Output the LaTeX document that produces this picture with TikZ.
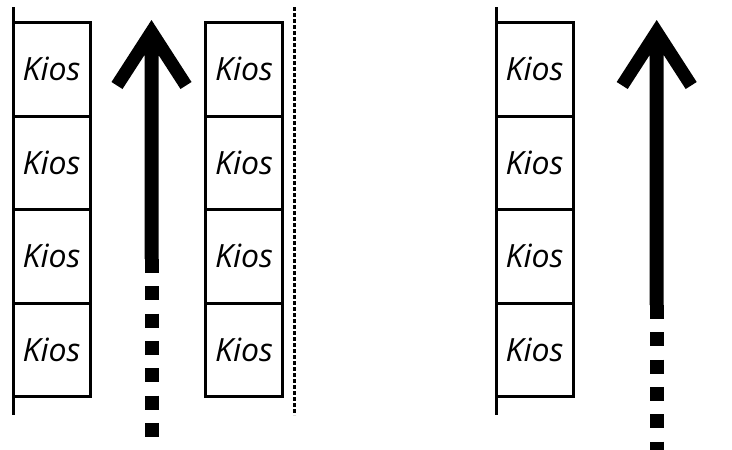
\documentclass[tikz,border=0pt]{standalone}
\usepackage{fontspec}
\setmainfont{Open Sans}
\begin{document}
\begin{tikzpicture}[x=1pt,y=-1pt,
  kiosk/.style={draw, line width=3pt, minimum width=77pt, minimum height=93.5pt,
    inner sep=0pt, font=\fontsize{32}{32}\selectfont\itshape},
  wall/.style={line width=3pt},
  fence/.style={line width=2.4pt, dash pattern=on 4pt off 2pt},
  trail/.style={line width=14pt, dash pattern=on 14pt off 13.3pt}]
\useasboundingbox (0,0) rectangle (732,450);

% three rows of kiosks
\foreach \col/\cx in {a/51.5, b/244, c/534.5}{
  \foreach \i in {1,...,4}{
    \node[kiosk] (\col\i) at (\cx, {22.5+93.5*(\i-0.5)}) {Kios};
  }
}

% walls and fence
\coordinate (wa1) at (13,7);   \coordinate (wa2) at (13,415);
\coordinate (wc1) at (496,7);  \coordinate (wc2) at (496,415);
\coordinate (f1) at (294.3,7); \coordinate (f2) at (294.3,415);
\draw[wall] (wa1) -- (wa2);
\draw[wall] (wc1) -- (wc2);
\draw[fence] (f1) -- (f2);

% walking direction arrows: solid shaft with head, dotted tail
\foreach \name/\cx/\ye/\yend in {p/151.5/259/438, q/656.7/305/450}{
  \fill ({\cx},20) -- ({\cx+40},82) -- ({\cx+29},89) -- ({\cx+7},55)
        -- ({\cx+7},\ye) -- ({\cx-7},\ye) -- ({\cx-7},55)
        -- ({\cx-29},89) -- ({\cx-40},82) -- cycle;
  \coordinate (\name1) at (\cx,\ye);
  \coordinate (\name2) at (\cx,\yend);
  \draw[trail] (\name1) -- (\name2);
}
\end{tikzpicture}
\end{document}
